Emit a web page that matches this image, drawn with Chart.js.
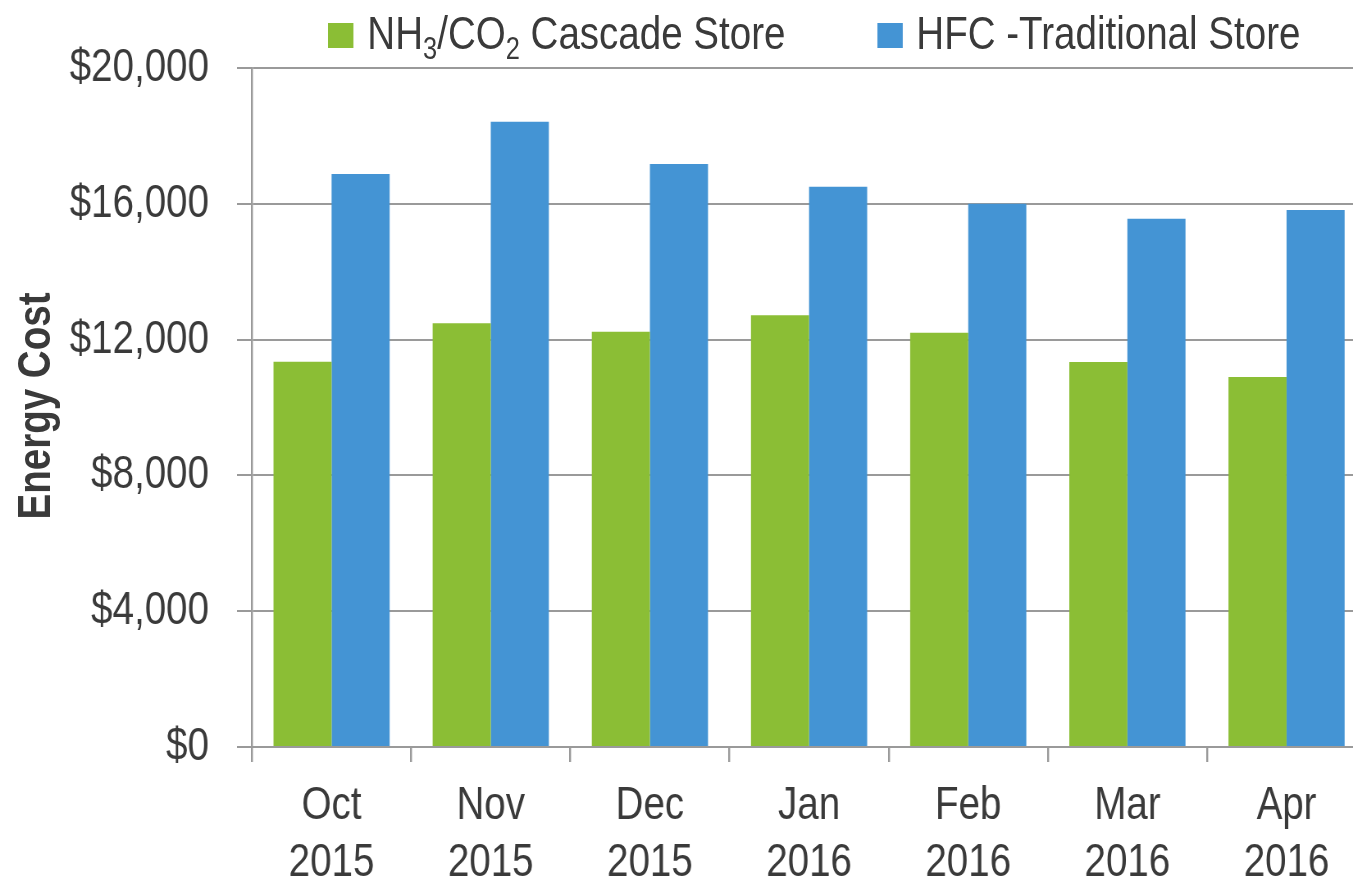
<!DOCTYPE html>
<html>
<head>
<meta charset="utf-8">
<title>Energy Cost</title>
<script src="https://cdn.jsdelivr.net/npm/chart.js@4.4.1/dist/chart.umd.min.js"></script>
<style>
  html, body { margin: 0; padding: 0; background: #fff; overflow: hidden; }
  /* no narrow font installed, so the whole chart is squeezed sideways to look like Arial Narrow */
  #wrap { position: absolute; top: 0; left: 0; width: 1666px; height: 882px; transform: scaleX(0.82); transform-origin: 0 0; }
  #legend {
    position: absolute; top: 0; left: 0; width: 1666px; height: 68px;
    font-family: 'Liberation Sans', Arial, sans-serif;
    font-size: 47px; color: #3a3a3a;
  }
  .item { position: absolute; top: 10px; white-space: nowrap; line-height: 46px; }
  .box { display: inline-block; width: 31px; height: 25px; margin-right: 17px; vertical-align: 1px; }
  .item sub { font-size: 31px; vertical-align: -10px; line-height: 0; }
  #ytitle {
    position: absolute; left: -116px; top: 378px; width: 300px; height: 56px; line-height: 56px;
    text-align: center; white-space: nowrap;
    font-family: 'Liberation Sans', Arial, sans-serif; font-weight: bold; font-size: 47px; color: #3a3a3a;
    transform: rotate(-90deg) scaleX(0.82); transform-origin: 50% 50%;
  }
</style>
</head>
<body>
<div id="wrap">
  <div id="legend"></div>
  <canvas id="chart" width="1666" height="882"></canvas>
</div>
<div id="ytitle"></div>
<script>
const months = [['Oct', '2015'], ['Nov', '2015'], ['Dec', '2015'], ['Jan', '2016'], ['Feb', '2016'], ['Mar', '2016'], ['Apr', '2016']];
const cascadeCost = [11350, 12480, 12230, 12720, 12200, 11340, 10900];
const hfcCost = [16880, 18420, 17170, 16500, 16000, 15560, 15820];
const seriesNames = ['NH₃/CO₂ Cascade Store', 'HFC -Traditional Store'];
const legendHtml = ['NH<sub>3</sub>/CO<sub>2</sub> Cascade Store', 'HFC -Traditional Store'];
const seriesColors = ['#8bbe35', '#4494d4'];
const yTicks = [0, 4000, 8000, 12000, 16000, 20000];
const yTitle = 'Energy Cost';

const squeeze = 0.82;
const fontFamily = "'Liberation Sans', Arial, sans-serif";
const textColor = '#3a3a3a';
const gridColor = '#9a9a9a';

// legend in html so the subscripts look right (positions are in screen px)
const legendLeft = [328, 877];
const legend = document.getElementById('legend');
legendHtml.forEach((html, i) => {
  const el = document.createElement('div');
  el.className = 'item';
  el.style.left = (legendLeft[i] / squeeze) + 'px';
  el.innerHTML = '<span class="box" style="background:' + seriesColors[i] + '"></span>' + html;
  legend.appendChild(el);
});
document.getElementById('ytitle').textContent = yTitle;

const ctx = document.getElementById('chart').getContext('2d');
new Chart(ctx, {
  type: 'bar',
  data: {
    labels: months,
    datasets: [
      { label: seriesNames[0], data: cascadeCost, backgroundColor: seriesColors[0] },
      { label: seriesNames[1], data: hfcCost, backgroundColor: seriesColors[1] },
    ],
  },
  options: {
    responsive: false,
    animation: false,
    layout: { padding: { top: 68, left: 0, right: 0, bottom: 0 } },
    datasets: { bar: { categoryPercentage: 0.73, barPercentage: 1.0 } },
    plugins: {
      legend: { display: false },
      tooltip: { enabled: false },
    },
    scales: {
      x: {
        grid: { drawOnChartArea: false, drawTicks: true, tickLength: 15, color: gridColor, lineWidth: 2.4, offset: true },
        border: { color: gridColor, width: 2 },
        ticks: {
          color: textColor,
          padding: 15,
          maxRotation: 0,
          font: { family: fontFamily, size: 47, lineHeight: 1.22 },
        },
        afterFit: (scale) => { scale.height = 135; },
      },
      y: {
        min: 0,
        max: 20000,
        afterBuildTicks: (scale) => { scale.ticks = yTicks.map((v) => ({ value: v })); },
        grid: { color: gridColor, lineWidth: 2, drawTicks: true, tickLength: 15 / squeeze },
        border: { color: gridColor, width: 2.4 },
        ticks: {
          color: textColor,
          padding: 28 / squeeze,
          font: { family: fontFamily, size: 47 },
          callback: (v) => '$' + v.toLocaleString('en-US'),
        },
        afterFit: (scale) => { scale.width = 252 / squeeze; },
      },
    },
  },
});
</script>
</body>
</html>
